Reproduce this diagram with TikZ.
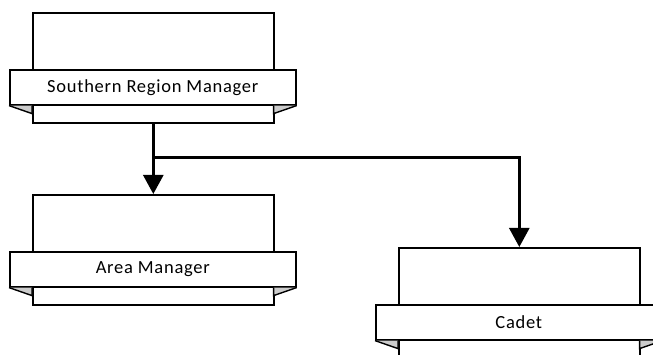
\documentclass[tikz,border=0pt]{standalone}
\usepackage{fontspec}
\setmainfont{Carlito}
\newfontfamily\bannerfont[LetterSpace=4]{Carlito}
\usetikzlibrary{arrows.meta,calc}
\begin{document}
\begin{tikzpicture}[x=1pt,y=-1pt,
  orgbox/.style={draw=black,line width=1.6pt,fill=white,minimum width=241pt,minimum height=110pt,anchor=north west,inner sep=0pt},
  banner/.style={draw=black,line width=1.6pt,fill=white,minimum width=286pt,minimum height=35pt,inner sep=0pt,font=\bannerfont\fontsize{18.5}{21}\selectfont},
  fold/.style={fill=black!20,draw=black,line width=1.4pt,line join=miter},
  conn/.style={line width=2.6pt,-{Triangle[length=19pt,width=20pt]}}]
\useasboundingbox (0,0) rectangle (653,355);
\clip (0,0) rectangle (653,355);
% Southern Region Manager
\node[orgbox] (b1) at (32,12) {};
\node[banner,anchor=north west] (t1) at (9,69) {Southern Region Manager};
\draw[fold] (t1.south west) -- ++(23,8) -- ++(0,-8);
\draw[fold] (t1.south east) -- ++(-23,8) -- ++(0,-8);
% Area Manager
\node[orgbox] (b2) at (32,194) {};
\node[banner,anchor=north west] (t2) at (9,251) {Area Manager};
\draw[fold] (t2.south west) -- ++(23,8) -- ++(0,-8);
\draw[fold] (t2.south east) -- ++(-23,8) -- ++(0,-8);
% Cadet
\node[orgbox] (b3) at (398,247) {};
\node[banner,anchor=north west] (t3) at (375,304) {Cadet};
\draw[fold] (t3.south west) -- ++(23,8) -- ++(0,-8);
\draw[fold] (t3.south east) -- ++(-23,8) -- ++(0,-8);
% connectors
\coordinate (j) at ($(b1.south)+(0,34)$);
\draw[conn] (b1.south) -- (b2.north);
\draw[conn] (j) -| (b3.north);
\end{tikzpicture}
\end{document}
